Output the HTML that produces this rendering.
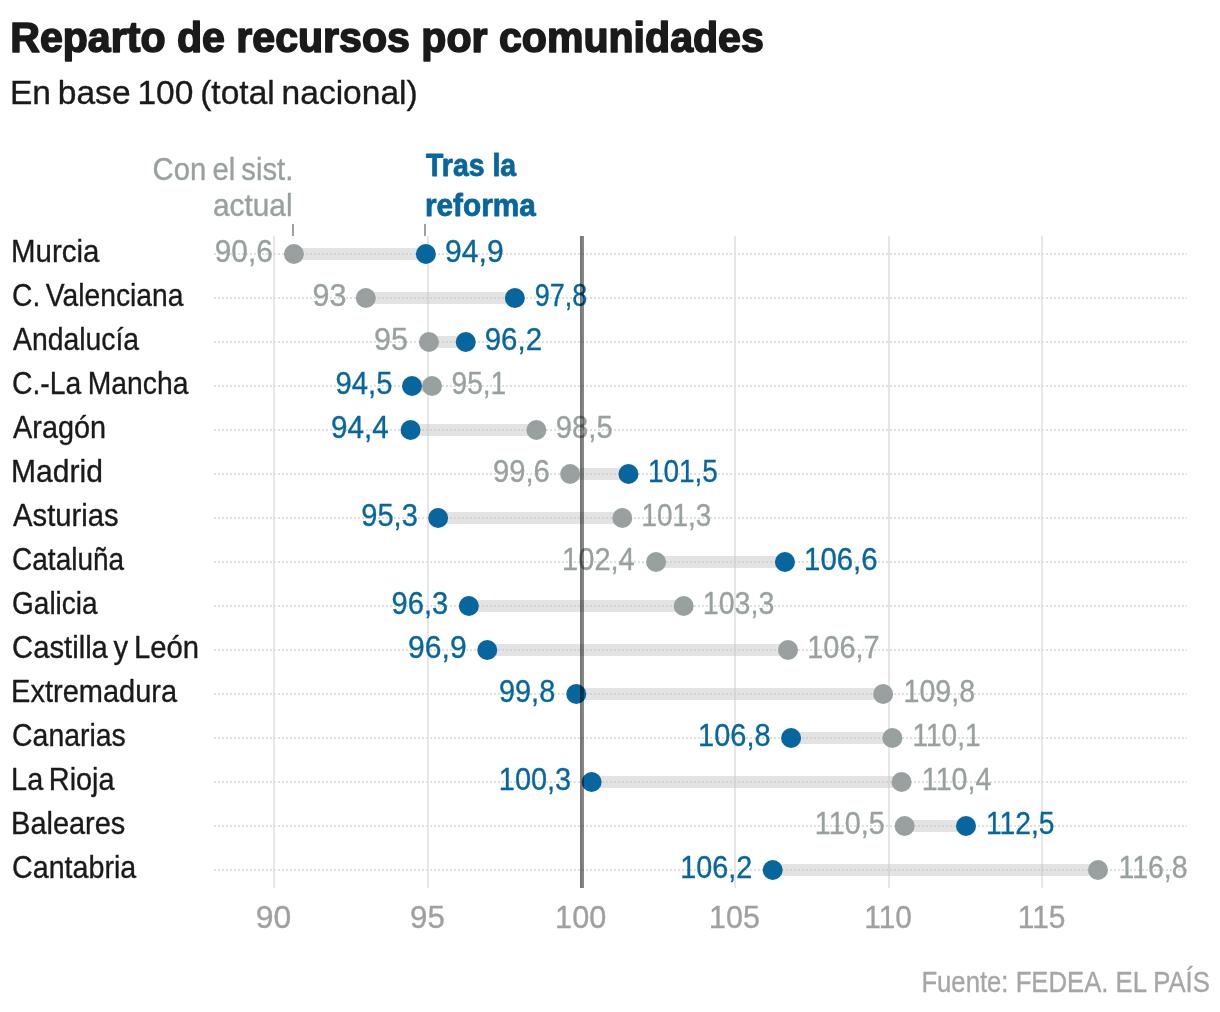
<!DOCTYPE html>
<html><head><meta charset="utf-8"><style>
html,body{margin:0;padding:0;background:#fff;overflow:hidden;width:1220px;height:1012px;}
svg{display:block;font-family:"Liberation Sans", sans-serif;will-change:transform;}
</style></head><body>
<svg width="1220" height="1012" viewBox="0 0 1220 1012">
<defs><pattern id="dots" x="214" y="0" width="4" height="2" patternUnits="userSpaceOnUse"><rect x="0" y="0" width="2" height="2" fill="#dfdfdf"/></pattern></defs>
<rect width="1220" height="1012" fill="#fff"/>
<rect x="273" y="236" width="2" height="652" fill="#e6e6e6"/>
<rect x="427" y="236" width="2" height="652" fill="#e6e6e6"/>
<rect x="734" y="236" width="2" height="652" fill="#e6e6e6"/>
<rect x="888" y="236" width="2" height="652" fill="#e6e6e6"/>
<rect x="1041" y="236" width="2" height="652" fill="#e6e6e6"/>
<rect x="214" y="253" width="973" height="2" fill="url(#dots)"/>
<rect x="214" y="297" width="973" height="2" fill="url(#dots)"/>
<rect x="214" y="341" width="973" height="2" fill="url(#dots)"/>
<rect x="214" y="385" width="973" height="2" fill="url(#dots)"/>
<rect x="214" y="429" width="973" height="2" fill="url(#dots)"/>
<rect x="214" y="473" width="973" height="2" fill="url(#dots)"/>
<rect x="214" y="517" width="973" height="2" fill="url(#dots)"/>
<rect x="214" y="561" width="973" height="2" fill="url(#dots)"/>
<rect x="214" y="605" width="973" height="2" fill="url(#dots)"/>
<rect x="214" y="649" width="973" height="2" fill="url(#dots)"/>
<rect x="214" y="693" width="973" height="2" fill="url(#dots)"/>
<rect x="214" y="737" width="973" height="2" fill="url(#dots)"/>
<rect x="214" y="781" width="973" height="2" fill="url(#dots)"/>
<rect x="214" y="825" width="973" height="2" fill="url(#dots)"/>
<rect x="214" y="869" width="973" height="2" fill="url(#dots)"/>
<rect x="293.91" y="248" width="131.97" height="12" fill="#c5c5c5" fill-opacity="0.48"/>
<rect x="365.80" y="292" width="149.08" height="12" fill="#c5c5c5" fill-opacity="0.48"/>
<rect x="428.95" y="336" width="36.83" height="12" fill="#c5c5c5" fill-opacity="0.48"/>
<rect x="412.00" y="380" width="20.02" height="12" fill="#c5c5c5" fill-opacity="0.48"/>
<rect x="410.54" y="424" width="125.83" height="12" fill="#c5c5c5" fill-opacity="0.48"/>
<rect x="570.12" y="468" width="58.31" height="12" fill="#c5c5c5" fill-opacity="0.48"/>
<rect x="438.16" y="512" width="184.14" height="12" fill="#c5c5c5" fill-opacity="0.48"/>
<rect x="656.06" y="556" width="128.90" height="12" fill="#c5c5c5" fill-opacity="0.48"/>
<rect x="468.85" y="600" width="214.83" height="12" fill="#c5c5c5" fill-opacity="0.48"/>
<rect x="487.26" y="644" width="300.76" height="12" fill="#c5c5c5" fill-opacity="0.48"/>
<rect x="576.26" y="688" width="306.90" height="12" fill="#c5c5c5" fill-opacity="0.48"/>
<rect x="791.09" y="732" width="101.28" height="12" fill="#c5c5c5" fill-opacity="0.48"/>
<rect x="591.61" y="776" width="309.97" height="12" fill="#c5c5c5" fill-opacity="0.48"/>
<rect x="904.64" y="820" width="61.38" height="12" fill="#c5c5c5" fill-opacity="0.48"/>
<rect x="772.68" y="864" width="325.31" height="12" fill="#c5c5c5" fill-opacity="0.48"/>
<circle cx="293.91" cy="254" r="10" fill="#99a1a0"/>
<circle cx="425.88" cy="254" r="10" fill="#07669d"/>
<circle cx="365.80" cy="298" r="10" fill="#99a1a0"/>
<circle cx="514.88" cy="298" r="10" fill="#07669d"/>
<circle cx="428.95" cy="342" r="10" fill="#99a1a0"/>
<circle cx="465.78" cy="342" r="10" fill="#07669d"/>
<circle cx="432.02" cy="386" r="10" fill="#99a1a0"/>
<circle cx="412.00" cy="386" r="10" fill="#07669d"/>
<circle cx="536.37" cy="430" r="10" fill="#99a1a0"/>
<circle cx="410.54" cy="430" r="10" fill="#07669d"/>
<circle cx="570.12" cy="474" r="10" fill="#99a1a0"/>
<circle cx="628.43" cy="474" r="10" fill="#07669d"/>
<circle cx="622.30" cy="518" r="10" fill="#99a1a0"/>
<circle cx="438.16" cy="518" r="10" fill="#07669d"/>
<circle cx="656.06" cy="562" r="10" fill="#99a1a0"/>
<circle cx="784.95" cy="562" r="10" fill="#07669d"/>
<circle cx="683.68" cy="606" r="10" fill="#99a1a0"/>
<circle cx="468.85" cy="606" r="10" fill="#07669d"/>
<circle cx="788.02" cy="650" r="10" fill="#99a1a0"/>
<circle cx="487.26" cy="650" r="10" fill="#07669d"/>
<circle cx="883.16" cy="694" r="10" fill="#99a1a0"/>
<circle cx="576.26" cy="694" r="10" fill="#07669d"/>
<circle cx="892.37" cy="738" r="10" fill="#99a1a0"/>
<circle cx="791.09" cy="738" r="10" fill="#07669d"/>
<circle cx="901.58" cy="782" r="10" fill="#99a1a0"/>
<circle cx="591.61" cy="782" r="10" fill="#07669d"/>
<circle cx="904.64" cy="826" r="10" fill="#99a1a0"/>
<circle cx="966.02" cy="826" r="10" fill="#07669d"/>
<circle cx="1097.99" cy="870" r="10" fill="#99a1a0"/>
<circle cx="772.68" cy="870" r="10" fill="#07669d"/>
<text transform="translate(10.24 52) scale(0.9785 1)" font-size="42" font-weight="bold" fill="#1a1a1a" stroke="#1a1a1a" stroke-width="1.6" stroke-linejoin="round">Reparto de recursos por comunidades</text>
<text transform="translate(9.95 104) scale(0.9865 1)" font-size="34" font-weight="normal" fill="#1a1a1a" stroke="#1a1a1a" stroke-width="0.35" stroke-linejoin="round" word-spacing="-2.5">En base 100 (total nacional)</text>
<text transform="translate(152.57 180) scale(0.9428 1)" font-size="31" font-weight="normal" fill="#99a1a0" stroke="#99a1a0" stroke-width="0.35" stroke-linejoin="round" word-spacing="-2">Con el sist.</text>
<text transform="translate(212.98 216) scale(0.9623 1)" font-size="31" font-weight="normal" fill="#99a1a0" stroke="#99a1a0" stroke-width="0.35" stroke-linejoin="round">actual</text>
<text transform="translate(426.04 176) scale(0.9178 1)" font-size="31" font-weight="bold" fill="#07669d" stroke="#07669d" stroke-width="0.8" stroke-linejoin="round">Tras la</text>
<text transform="translate(424.93 216) scale(0.9607 1)" font-size="31" font-weight="bold" fill="#07669d" stroke="#07669d" stroke-width="0.8" stroke-linejoin="round">reforma</text>
<text transform="translate(921.39 992) scale(0.8711 1)" font-size="29.5" font-weight="normal" fill="#a6a6a6" stroke="#a6a6a6" stroke-width="0.35" stroke-linejoin="round">Fuente: FEDEA. EL PAÍS</text>
<text transform="translate(255.79 928) scale(1.0296 1)" font-size="31" font-weight="normal" fill="#a0a0a0" stroke="#a0a0a0" stroke-width="0.35" stroke-linejoin="round">90</text>
<text transform="translate(410.11 928) scale(1.0098 1)" font-size="31" font-weight="normal" fill="#a0a0a0" stroke="#a0a0a0" stroke-width="0.35" stroke-linejoin="round">95</text>
<text transform="translate(555.07 928) scale(0.9901 1)" font-size="31" font-weight="normal" fill="#a0a0a0" stroke="#a0a0a0" stroke-width="0.35" stroke-linejoin="round">100</text>
<text transform="translate(709.08 928) scale(0.9842 1)" font-size="31" font-weight="normal" fill="#a0a0a0" stroke="#a0a0a0" stroke-width="0.35" stroke-linejoin="round">105</text>
<text transform="translate(864.32 928) scale(0.9627 1)" font-size="31" font-weight="normal" fill="#a0a0a0" stroke="#a0a0a0" stroke-width="0.35" stroke-linejoin="round">110</text>
<text transform="translate(1017.81 928) scale(0.9653 1)" font-size="31" font-weight="normal" fill="#a0a0a0" stroke="#a0a0a0" stroke-width="0.35" stroke-linejoin="round">115</text>
<text transform="translate(11.08 262) scale(0.9661 1)" font-size="30.5" font-weight="normal" fill="#1a1a1a" stroke="#1a1a1a" stroke-width="0.35" stroke-linejoin="round">Murcia</text>
<text transform="translate(214.78 262) scale(0.9313 1)" font-size="32" font-weight="normal" fill="#99a1a0" stroke="#99a1a0" stroke-width="0.35" stroke-linejoin="round">90,6</text>
<text transform="translate(445.07 262) scale(0.9406 1)" font-size="32" font-weight="normal" fill="#07669d" stroke="#07669d" stroke-width="0.35" stroke-linejoin="round">94,9</text>
<text transform="translate(12.09 306) scale(0.9258 1)" font-size="30.5" font-weight="normal" fill="#1a1a1a" stroke="#1a1a1a" stroke-width="0.35" stroke-linejoin="round" word-spacing="-2.5">C. Valenciana</text>
<text transform="translate(312.56 306) scale(0.9543 1)" font-size="32" font-weight="normal" fill="#99a1a0" stroke="#99a1a0" stroke-width="0.35" stroke-linejoin="round">93</text>
<text transform="translate(534.77 306) scale(0.8447 1)" font-size="32" font-weight="normal" fill="#07669d" stroke="#07669d" stroke-width="0.35" stroke-linejoin="round">97,8</text>
<text transform="translate(13.09 350) scale(0.9292 1)" font-size="30.5" font-weight="normal" fill="#1a1a1a" stroke="#1a1a1a" stroke-width="0.35" stroke-linejoin="round">Andalucía</text>
<text transform="translate(374.06 350) scale(0.9557 1)" font-size="32" font-weight="normal" fill="#99a1a0" stroke="#99a1a0" stroke-width="0.35" stroke-linejoin="round">95</text>
<text transform="translate(484.69 350) scale(0.9212 1)" font-size="32" font-weight="normal" fill="#07669d" stroke="#07669d" stroke-width="0.35" stroke-linejoin="round">96,2</text>
<text transform="translate(12.08 394) scale(0.9281 1)" font-size="30.5" font-weight="normal" fill="#1a1a1a" stroke="#1a1a1a" stroke-width="0.35" stroke-linejoin="round" word-spacing="-1.5">C.-La Mancha</text>
<text transform="translate(335.50 394) scale(0.9137 1)" font-size="32" font-weight="normal" fill="#07669d" stroke="#07669d" stroke-width="0.35" stroke-linejoin="round">94,5</text>
<text transform="translate(451.53 394) scale(0.8791 1)" font-size="32" font-weight="normal" fill="#99a1a0" stroke="#99a1a0" stroke-width="0.35" stroke-linejoin="round">95,1</text>
<text transform="translate(13.09 438) scale(0.9451 1)" font-size="30.5" font-weight="normal" fill="#1a1a1a" stroke="#1a1a1a" stroke-width="0.35" stroke-linejoin="round">Aragón</text>
<text transform="translate(331.09 438) scale(0.9259 1)" font-size="32" font-weight="normal" fill="#07669d" stroke="#07669d" stroke-width="0.35" stroke-linejoin="round">94,4</text>
<text transform="translate(555.80 438) scale(0.9137 1)" font-size="32" font-weight="normal" fill="#99a1a0" stroke="#99a1a0" stroke-width="0.35" stroke-linejoin="round">98,5</text>
<text transform="translate(11.04 482) scale(0.9853 1)" font-size="30.5" font-weight="normal" fill="#1a1a1a" stroke="#1a1a1a" stroke-width="0.35" stroke-linejoin="round">Madrid</text>
<text transform="translate(492.90 482) scale(0.9147 1)" font-size="32" font-weight="normal" fill="#99a1a0" stroke="#99a1a0" stroke-width="0.35" stroke-linejoin="round">99,6</text>
<text transform="translate(647.89 482) scale(0.8735 1)" font-size="32" font-weight="normal" fill="#07669d" stroke="#07669d" stroke-width="0.35" stroke-linejoin="round">101,5</text>
<text transform="translate(13.09 526) scale(0.9589 1)" font-size="30.5" font-weight="normal" fill="#1a1a1a" stroke="#1a1a1a" stroke-width="0.35" stroke-linejoin="round">Asturias</text>
<text transform="translate(361.31 526) scale(0.9082 1)" font-size="32" font-weight="normal" fill="#07669d" stroke="#07669d" stroke-width="0.35" stroke-linejoin="round">95,3</text>
<text transform="translate(641.39 526) scale(0.8726 1)" font-size="32" font-weight="normal" fill="#99a1a0" stroke="#99a1a0" stroke-width="0.35" stroke-linejoin="round">101,3</text>
<text transform="translate(12.09 570) scale(0.9179 1)" font-size="30.5" font-weight="normal" fill="#1a1a1a" stroke="#1a1a1a" stroke-width="0.35" stroke-linejoin="round">Cataluña</text>
<text transform="translate(562.12 570) scale(0.9075 1)" font-size="32" font-weight="normal" fill="#99a1a0" stroke="#99a1a0" stroke-width="0.35" stroke-linejoin="round">102,4</text>
<text transform="translate(804.10 570) scale(0.9167 1)" font-size="32" font-weight="normal" fill="#07669d" stroke="#07669d" stroke-width="0.35" stroke-linejoin="round">106,6</text>
<text transform="translate(12.09 614) scale(0.9170 1)" font-size="30.5" font-weight="normal" fill="#1a1a1a" stroke="#1a1a1a" stroke-width="0.35" stroke-linejoin="round">Galicia</text>
<text transform="translate(391.61 614) scale(0.9082 1)" font-size="32" font-weight="normal" fill="#07669d" stroke="#07669d" stroke-width="0.35" stroke-linejoin="round">96,3</text>
<text transform="translate(702.85 614) scale(0.8921 1)" font-size="32" font-weight="normal" fill="#99a1a0" stroke="#99a1a0" stroke-width="0.35" stroke-linejoin="round">103,3</text>
<text transform="translate(12.05 658) scale(0.9588 1)" font-size="30.5" font-weight="normal" fill="#1a1a1a" stroke="#1a1a1a" stroke-width="0.35" stroke-linejoin="round" word-spacing="-2.5">Castilla y León</text>
<text transform="translate(408.07 658) scale(0.9406 1)" font-size="32" font-weight="normal" fill="#07669d" stroke="#07669d" stroke-width="0.35" stroke-linejoin="round">96,9</text>
<text transform="translate(807.23 658) scale(0.9044 1)" font-size="32" font-weight="normal" fill="#99a1a0" stroke="#99a1a0" stroke-width="0.35" stroke-linejoin="round">106,7</text>
<text transform="translate(11.11 702) scale(0.9505 1)" font-size="30.5" font-weight="normal" fill="#1a1a1a" stroke="#1a1a1a" stroke-width="0.35" stroke-linejoin="round">Extremadura</text>
<text transform="translate(498.91 702) scale(0.9045 1)" font-size="32" font-weight="normal" fill="#07669d" stroke="#07669d" stroke-width="0.35" stroke-linejoin="round">99,8</text>
<text transform="translate(903.55 702) scale(0.8933 1)" font-size="32" font-weight="normal" fill="#99a1a0" stroke="#99a1a0" stroke-width="0.35" stroke-linejoin="round">109,8</text>
<text transform="translate(12.08 746) scale(0.9316 1)" font-size="30.5" font-weight="normal" fill="#1a1a1a" stroke="#1a1a1a" stroke-width="0.35" stroke-linejoin="round">Canarias</text>
<text transform="translate(698.12 746) scale(0.9063 1)" font-size="32" font-weight="normal" fill="#07669d" stroke="#07669d" stroke-width="0.35" stroke-linejoin="round">106,8</text>
<text transform="translate(912.48 746) scale(0.8755 1)" font-size="32" font-weight="normal" fill="#99a1a0" stroke="#99a1a0" stroke-width="0.35" stroke-linejoin="round">110,1</text>
<text transform="translate(11.12 790) scale(0.9458 1)" font-size="30.5" font-weight="normal" fill="#1a1a1a" stroke="#1a1a1a" stroke-width="0.35" stroke-linejoin="round" word-spacing="-2.5">La Rioja</text>
<text transform="translate(498.83 790) scale(0.9038 1)" font-size="32" font-weight="normal" fill="#07669d" stroke="#07669d" stroke-width="0.35" stroke-linejoin="round">100,3</text>
<text transform="translate(921.84 790) scale(0.8968 1)" font-size="32" font-weight="normal" fill="#99a1a0" stroke="#99a1a0" stroke-width="0.35" stroke-linejoin="round">110,4</text>
<text transform="translate(11.12 834) scale(0.9490 1)" font-size="30.5" font-weight="normal" fill="#1a1a1a" stroke="#1a1a1a" stroke-width="0.35" stroke-linejoin="round">Baleares</text>
<text transform="translate(814.84 834) scale(0.8992 1)" font-size="32" font-weight="normal" fill="#99a1a0" stroke="#99a1a0" stroke-width="0.35" stroke-linejoin="round">110,5</text>
<text transform="translate(985.97 834) scale(0.8832 1)" font-size="32" font-weight="normal" fill="#07669d" stroke="#07669d" stroke-width="0.35" stroke-linejoin="round">112,5</text>
<text transform="translate(12.07 878) scale(0.9393 1)" font-size="30.5" font-weight="normal" fill="#1a1a1a" stroke="#1a1a1a" stroke-width="0.35" stroke-linejoin="round">Cantabria</text>
<text transform="translate(680.34 878) scale(0.8992 1)" font-size="32" font-weight="normal" fill="#07669d" stroke="#07669d" stroke-width="0.35" stroke-linejoin="round">106,2</text>
<text transform="translate(1118.46 878) scale(0.8899 1)" font-size="32" font-weight="normal" fill="#99a1a0" stroke="#99a1a0" stroke-width="0.35" stroke-linejoin="round">116,8</text>
<rect x="292" y="224" width="2" height="12" fill="#a0a0a0"/>
<rect x="424" y="224" width="2" height="12" fill="#a0a0a0"/>
<rect x="580" y="236" width="2" height="652" fill="#000" fill-opacity="0.53"/>
<rect x="582" y="236" width="2" height="652" fill="#000" fill-opacity="0.47"/>
</svg></body></html>
